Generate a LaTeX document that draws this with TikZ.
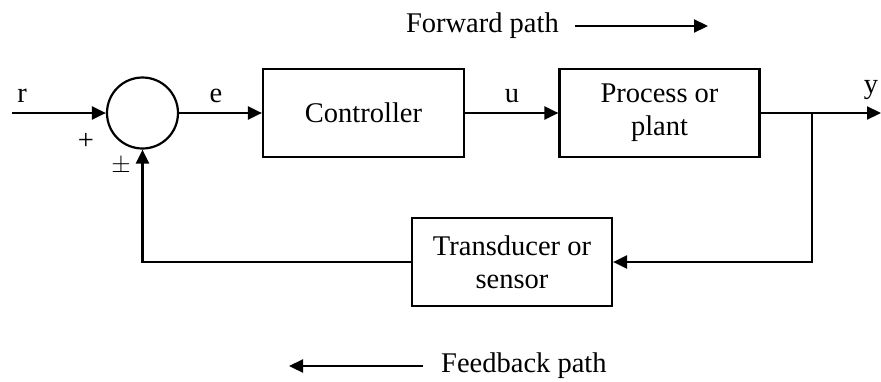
\documentclass[tikz,border=0pt]{standalone}
\usepackage{fontspec}
\setmainfont{Liberation Serif}
\usetikzlibrary{arrows.meta}
\begin{document}
\begin{tikzpicture}[x=1pt,y=-1pt,
  every node/.style={font=\fontsize{28.5}{33}\selectfont, inner sep=0pt},
  blk/.style={draw, line width=2.2pt, minimum width=200pt, minimum height=88pt, align=center},
  sumnode/.style={draw, circle, line width=2.2pt, minimum size=71pt},
  conn/.style={line width=2.2pt, -{Triangle[length=14pt,width=13pt]}},
  wire/.style={line width=2.2pt}]
\useasboundingbox (0,0) rectangle (881,381);
% blocks
\node[sumnode] (sum) at (142.5,113) {};
\node[blk, minimum width=201pt] (ctrl) at (363.5,113) {Controller};
\node[blk] (plant) at (659.5,113) {Process or\\plant};
\node[blk] (sens) at (512,262) {Transducer or\\sensor};
% coordinates
\coordinate (rin) at (12,113);
\coordinate (yout) at (881,113);
\coordinate (br) at (812,113);
\coordinate (brd) at (812,262);
\coordinate (fbc) at (142.5,262);
% connectors
\draw[conn] (rin) -- (sum.west);
\draw[conn] (sum.east) -- (ctrl.west);
\draw[conn] (ctrl.east) -- (plant.west);
\draw[conn] (plant.east) -- (yout);
\draw[conn] (br) -- (brd) -- (sens.east);
\draw[conn] (sens.west) -- (fbc) -- (sum.south);
% signal labels
\node (lr) at (22,96) {r};
\node (le) at (216,96) {e};
\node (lu) at (512,96) {u};
\node (ly) at (871,90) {y};
\node (lp) at (86,141) {+};
\node (lpm) at (121,166) {$\pm$};
% path labels
\node[anchor=east] (fwd) at (559,26) {Forward path};
\coordinate (fa1) at (575,26);
\coordinate (fa2) at (708,26);
\draw[conn] (fa1) -- (fa2);
\node[anchor=west] (fb) at (441,366) {Feedback path};
\coordinate (fb1) at (423,366);
\coordinate (fb2) at (289,366);
\draw[conn] (fb1) -- (fb2);
\end{tikzpicture}
\end{document}
